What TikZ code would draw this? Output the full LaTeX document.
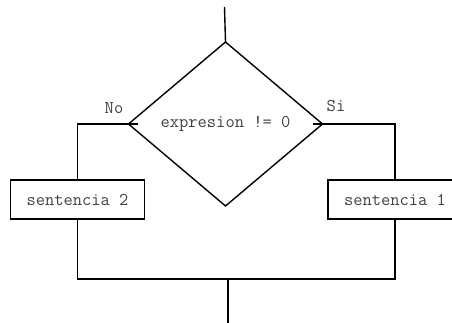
\documentclass[tikz,border=0pt]{standalone}
\usetikzlibrary{shapes.geometric,positioning}

\tikzset{
  cond/.style={diamond, draw, line width=1.4pt, inner sep=0pt, outer sep=0pt,
    minimum width=194pt, minimum height=164pt},
  stmt/.style={rectangle, draw, line width=1.4pt, outer sep=0pt,
    minimum width=134pt, minimum height=39pt},
  lbl/.style={text=black!75, font=\ttfamily\fontsize{18}{18}\selectfont}
}

\begin{document}
\begin{tikzpicture}[x=1pt,y=1pt,line width=1.4pt,lbl]
				\useasboundingbox (0,0) rectangle (452,323);
				\node[cond] (c) at (225.5,199) {expresion != 0};
				\node[stmt] (s_2) at (77.5,123.5) {sentencia 2};
				\node[stmt] (s_1) at (395,123.5) {sentencia 1};
				\coordinate (in) at (224.5,316);
				\coordinate (j) at (228,44);
				\coordinate (out) at (228,0);
				\node (no) at (114,215) {No};
				\node (si) at (336,217) {Si};
				\draw (in) -- (c.north);
				\draw ([xshift=9pt]c.west) -| (s_2.north);
				\draw ([xshift=-10pt]c.east) -| (s_1.north);
				\draw (s_2.south) |- (j) -| (s_1.south);
				\draw (j) -- (out);
			\end{tikzpicture}
\end{document}
